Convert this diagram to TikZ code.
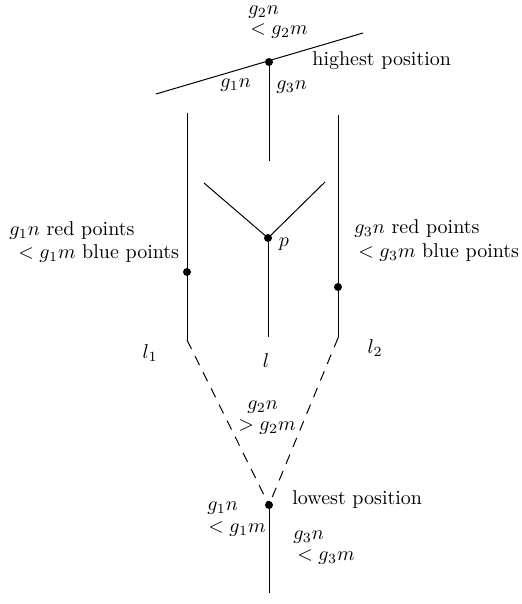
\documentclass[tikz,border=0pt]{standalone}
\begin{document}
\begin{tikzpicture}[x=0.5pt,y=-0.5pt,
  ln/.style={line width=0.5pt},
  dsh/.style={line width=0.5pt,dash pattern=on 5pt off 4pt},
  dot/.style={circle,fill=black,inner sep=0pt,minimum size=4pt},
  lbl/.style={inner sep=0pt,anchor=west},
  lab/.style={inner sep=0pt}]
\useasboundingbox (0,0) rectangle (522,604);
% top line
\coordinate (tl) at (156,94);
\coordinate (tr) at (363,33);
\node[dot] (hp) at (269,62) {};
\coordinate (cb) at (269,161);
% side lines
\coordinate (lt) at (187,113);
\coordinate (lb) at (187,340);
\node[dot] (ld) at (187,272) {};
\coordinate (rt) at (338,115);
\coordinate (rb) at (338,338);
\node[dot] (rd) at (338,287) {};
% V
\coordinate (vl) at (204,183);
\coordinate (vr) at (325,182);
\node[dot] (p) at (268,238) {};
\coordinate (pb) at (268,337);
% lowest
\node[dot] (lo) at (269,505) {};
\coordinate (bot) at (269,593);

\draw[ln] (tl) -- (tr);
\draw[ln] (hp.center) -- (cb);
\draw[ln] (lt) -- (lb);
\draw[ln] (rt) -- (rb);
\draw[ln] (vl) -- (p.center) -- (vr);
\draw[ln] (p.center) -- (pb);
\draw[dsh] (lb) -- (lo.center);
\draw[dsh] (rb) -- (lo.center);
\draw[ln] (lo.center) -- (bot);

% labels
\node[lbl] (t1) at (248,12) {$g_2n$};
\node[lbl] (t2) at (250,31) {$<g_2m$};
\node[lbl] (t3) at (312,61) {highest position};
\node[lbl] (t4) at (220,85) {$g_1n$};
\node[lbl] (t5) at (276,87) {$g_3n$};
\node[lbl] (t6) at (9,231) {$g_1n$ red points};
\node[lbl] (t7) at (18,254) {$<g_1m$ blue points};
\node[lbl] (t8) at (354,229) {$g_3n$ red points};
\node[lbl] (t9) at (358,253) {$<g_3m$ blue points};
\node[lab] (tp) at (284,244) {$p$};
\node[lab] (tl1) at (150,353) {$l_1$};
\node[lab] (tll) at (266,361) {$l$};
\node[lab] (tl2) at (375,348) {$l_2$};
\node[lbl] (m1) at (247,407) {$g_2n$};
\node[lbl] (m2) at (238,427) {$>g_2m$};
\node[lbl] (m3) at (292,499) {lowest position};
\node[lbl] (m4) at (207,508) {$g_1n$};
\node[lbl] (m5) at (208,529) {$<g_1m$};
\node[lbl] (m6) at (293,537) {$g_3n$};
\node[lbl] (m7) at (297,557) {$<g_3m$};
\end{tikzpicture}
\end{document}
